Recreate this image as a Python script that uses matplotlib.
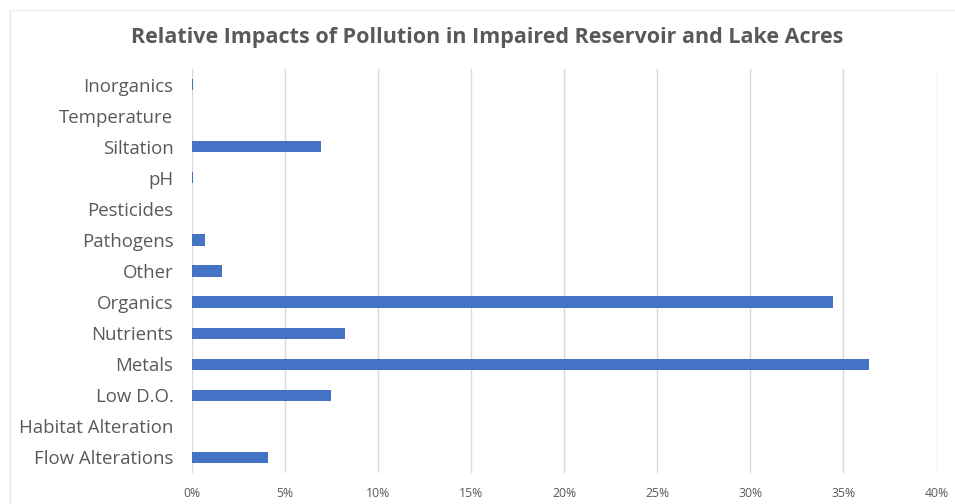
import matplotlib
matplotlib.use("Agg")
import matplotlib.pyplot as plt
from matplotlib.ticker import FuncFormatter
from matplotlib.lines import Line2D

# Share of impaired reservoir/lake acres affected by each pollutant (%)
categories = ["Inorganics", "Temperature", "Siltation", "pH", "Pesticides",
              "Pathogens", "Other", "Organics", "Nutrients", "Metals",
              "Low D.O.", "Habitat Alteration", "Flow Alterations"]
impact_pct = [0.09, 0.0, 6.93, 0.08, 0.0,
              0.70, 1.63, 34.43, 8.23, 36.37,
              7.48, 0.0, 4.12]
x_ticks = [0, 5, 10, 15, 20, 25, 30, 35, 40]

plt.rcParams['font.family'] = ['Open Sans', 'DejaVu Sans']
text_color = "#595959"
bar_color = "#4472C4"
grid_color = "#D9D9D9"

W, H = 955, 504
fig = plt.figure(figsize=(W / 100, H / 100), dpi=100)
fig.patch.set_facecolor("white")

# faint chart-area frame
fig.add_artist(Line2D([10 / W, 10 / W], [0, 1 - 10 / H], transform=fig.transFigure,
                      color="#E6E6E6", lw=1))
fig.add_artist(Line2D([10 / W, 1], [1 - 10 / H, 1 - 10 / H], transform=fig.transFigure,
                      color="#EEEEEE", lw=1))

left, right = 191.5 / W, 936.5 / W
bottom, top = 1 - 473 / H, 1 - 69 / H
ax = fig.add_axes([left, bottom, right - left, top - bottom])

y = list(range(len(categories)))
ax.barh(y, impact_pct, height=0.36, color=bar_color, zorder=3)

ax.set_ylim(len(categories) - 0.5, -0.5)
ax.set_xlim(0, 40)
ax.set_xticks(x_ticks)
ax.xaxis.set_major_formatter(FuncFormatter(lambda v, p: f"{v:.0f}%"))
ax.set_yticks(y)
ax.set_yticklabels(categories)

ax.grid(axis="x", color=grid_color, lw=1, zorder=0)
ax.set_axisbelow(True)
for s in ax.spines.values():
    s.set_visible(False)
ax.tick_params(axis="both", length=0, colors=text_color)
ax.tick_params(axis="y", labelsize=13.4, pad=13)
ax.tick_params(axis="x", labelsize=8.8, pad=10)

fig.text(487 / W, 1 - 37.5 / H,
         "Relative Impacts of Pollution in Impaired Reservoir and Lake Acres",
         ha="center", va="center", fontsize=15.5, fontweight="bold", color=text_color)

fig.savefig("out.png", dpi=100)
